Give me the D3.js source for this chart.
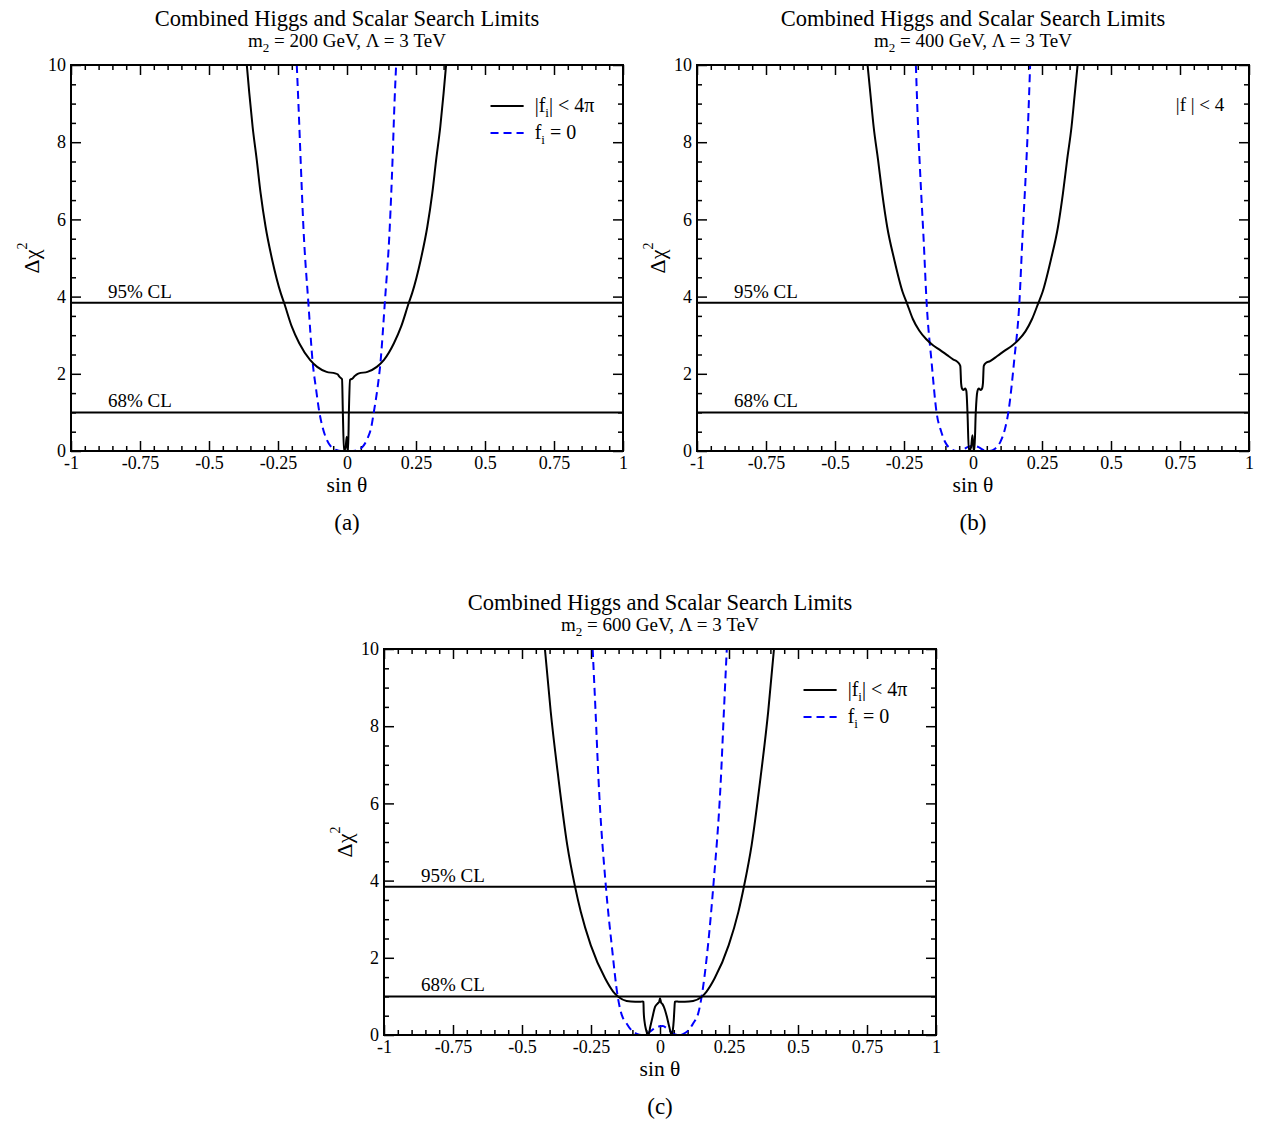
<!DOCTYPE html>
<html>
<head>
<meta charset="utf-8">
<script src="https://cdn.jsdelivr.net/npm/d3@7"></script>
<style>
  html, body { margin: 0; padding: 0; background: #fff; }
  svg { display: block; }
  text { font-family: "Liberation Serif", "Times New Roman", Times, serif; fill: #000; }
</style>
</head>
<body>
<svg id="fig" width="1261" height="1128"></svg>
<script>
// ---- tick labels and reference levels ----
const xTickValues = [-1, -0.75, -0.5, -0.25, 0, 0.25, 0.5, 0.75, 1];
const xTickLabels = ["-1", "-0.75", "-0.5", "-0.25", "0", "0.25", "0.5", "0.75", "1"];
const yTickValues = [0, 2, 4, 6, 8, 10];
const yTickLabels = ["0", "2", "4", "6", "8", "10"];
const clLevels = [3.84, 1.0];
const clLabels = ["95% CL", "68% CL"];

// ---- panel (a): m2 = 200 GeV ----
const limitedA = [
  [-0.363, 10], [-0.354, 9.27], [-0.342, 8.40], [-0.327, 7.54], [-0.313, 6.68],
  [-0.295, 5.81], [-0.271, 4.95], [-0.240, 4.09], [-0.228, 3.84], [-0.200, 3.22],
  [-0.173, 2.79], [-0.134, 2.36], [-0.108, 2.18], [-0.074, 2.05], [-0.043, 2.01],
  [-0.033, 1.98], [-0.029, 1.94], [-0.024, 1.90], [-0.018, 1.86], [-0.015, 1.0],
  [-0.011, 0.0], [-0.005, 0.1], [-0.001, 0.37], [0.002, 0.1], [0.004, 0.0],
  [0.007, 1.06], [0.011, 1.84], [0.020, 1.88], [0.029, 1.95], [0.033, 1.97],
  [0.043, 2.01], [0.074, 2.05], [0.108, 2.18], [0.134, 2.36], [0.170, 2.79],
  [0.196, 3.22], [0.224, 3.84], [0.236, 4.09], [0.267, 4.95], [0.291, 5.81],
  [0.309, 6.68], [0.323, 7.54], [0.338, 8.40], [0.350, 9.27], [0.359, 10]
];
const zeroA = [
  [-0.182, 10], [-0.176, 9.0], [-0.168, 7.54], [-0.158, 5.81], [-0.140, 3.84],
  [-0.124, 2.27], [-0.112, 1.6], [-0.100, 1.0], [-0.088, 0.6], [-0.075, 0.32],
  [-0.060, 0.13], [-0.045, 0.04], [-0.030, 0.01], [-0.015, 0.0], [0.0, 0.0],
  [0.015, 0.0], [0.030, 0.01], [0.045, 0.04], [0.060, 0.14], [0.075, 0.34],
  [0.088, 0.62], [0.097, 1.0], [0.110, 1.6], [0.121, 2.27], [0.137, 3.84],
  [0.155, 5.81], [0.165, 7.54], [0.172, 9.0], [0.178, 10]
];

// ---- panel (b): m2 = 400 GeV ----
const limitedB = [
  [-0.382, 10], [-0.372, 9.27], [-0.360, 8.40], [-0.344, 7.54], [-0.329, 6.68],
  [-0.311, 5.81], [-0.285, 4.95], [-0.255, 4.12], [-0.240, 3.84], [-0.218, 3.42],
  [-0.195, 3.12], [-0.170, 2.90], [-0.145, 2.74], [-0.120, 2.62], [-0.095, 2.49],
  [-0.071, 2.37], [-0.060, 2.33], [-0.050, 2.26], [-0.046, 2.2], [-0.043, 1.75],
  [-0.040, 1.62], [-0.035, 1.58], [-0.028, 1.62], [-0.024, 1.55], [-0.020, 1.0],
  [-0.015, 0.0], [-0.007, 0.1], [-0.002, 0.41], [0.002, 0.1], [0.005, 0.0],
  [0.010, 1.0], [0.016, 1.55], [0.021, 1.62], [0.028, 1.58], [0.033, 1.62],
  [0.036, 1.75], [0.039, 2.2], [0.045, 2.27], [0.062, 2.33], [0.088, 2.46],
  [0.115, 2.6], [0.140, 2.72], [0.165, 2.88], [0.190, 3.1], [0.214, 3.42],
  [0.237, 3.84], [0.252, 4.12], [0.282, 4.95], [0.308, 5.81], [0.326, 6.68],
  [0.341, 7.54], [0.357, 8.40], [0.369, 9.27], [0.379, 10]
];
const zeroB = [
  [-0.207, 10], [-0.199, 8.4], [-0.190, 7.0], [-0.179, 5.5], [-0.168, 3.84],
  [-0.150, 2.3], [-0.132, 1.0], [-0.115, 0.5], [-0.100, 0.22], [-0.080, 0.05],
  [-0.060, 0.0], [-0.040, 0.02], [-0.020, 0.1], [0.0, 0.14], [0.020, 0.1],
  [0.040, 0.02], [0.060, 0.0], [0.080, 0.06], [0.100, 0.25], [0.115, 0.55],
  [0.128, 1.0], [0.150, 2.4], [0.168, 3.84], [0.179, 5.5], [0.190, 7.0],
  [0.199, 8.4], [0.207, 10]
];

// ---- panel (c): m2 = 600 GeV ----
const limitedC = [
  [-0.417, 10], [-0.396, 8.38], [-0.368, 6.65], [-0.336, 4.92], [-0.308, 3.85],
  [-0.287, 3.19], [-0.251, 2.33], [-0.199, 1.47], [-0.169, 1.12], [-0.151, 0.99],
  [-0.121, 0.88], [-0.090, 0.86], [-0.072, 0.86], [-0.063, 0.87], [-0.060, 0.86],
  [-0.059, 0.6], [-0.056, 0.35], [-0.051, 0.15], [-0.046, 0.04], [-0.042, 0.0],
  [-0.035, 0.22], [-0.026, 0.5], [-0.018, 0.73], [-0.008, 0.82], [-0.003, 0.86],
  [0.0, 0.95], [0.004, 0.84], [0.009, 0.8], [0.014, 0.73], [0.024, 0.5],
  [0.034, 0.2], [0.042, 0.0], [0.046, 0.1], [0.050, 0.4], [0.052, 0.65],
  [0.054, 0.86], [0.057, 0.87], [0.070, 0.86], [0.090, 0.86], [0.120, 0.88],
  [0.151, 0.99], [0.168, 1.12], [0.198, 1.47], [0.249, 2.33], [0.284, 3.19],
  [0.304, 3.84], [0.332, 4.92], [0.364, 6.65], [0.392, 8.38], [0.413, 10]
];
const zeroC = [
  [-0.244, 10], [-0.233, 8.3], [-0.223, 6.65], [-0.196, 3.84], [-0.175, 2.33],
  [-0.153, 0.99], [-0.142, 0.6], [-0.121, 0.3], [-0.100, 0.1], [-0.084, 0.03],
  [-0.068, 0.0], [-0.050, 0.03], [-0.030, 0.12], [-0.010, 0.22], [0.010, 0.23],
  [0.030, 0.14], [0.050, 0.03], [0.070, 0.0], [0.085, 0.03], [0.100, 0.1],
  [0.120, 0.3], [0.140, 0.6], [0.151, 1.0], [0.174, 2.33], [0.193, 3.84],
  [0.221, 6.7], [0.231, 8.3], [0.242, 10]
];

const titleText = "Combined Higgs and Scalar Search Limits";
const massLabels = ["200", "400", "600"];
const panelTags = ["(a)", "(b)", "(c)"];

// ---- layout ----
const panels = [
  { left: 71,  top: 65,  limited: limitedA, zero: zeroA, mass: massLabels[0], tag: panelTags[0], legend: "full" },
  { left: 697, top: 65,  limited: limitedB, zero: zeroB, mass: massLabels[1], tag: panelTags[1], legend: "text" },
  { left: 384, top: 649, limited: limitedC, zero: zeroC, mass: massLabels[2], tag: panelTags[2], legend: "full" }
];
const W = 552, H = 386;
const FONT = '"Liberation Serif", "Times New Roman", serif';
const svg = d3.select("#fig");

panels.forEach((p, i) => {
  const g = svg.append("g").attr("transform", `translate(${p.left},${p.top})`);
  const x = d3.scaleLinear().domain([-1, 1]).range([0, W]);
  const y = d3.scaleLinear().domain([0, 10]).range([H, 0]);

  const clipId = "clip" + i;
  g.append("clipPath").attr("id", clipId)
    .append("rect").attr("x", 0).attr("y", 0).attr("width", W).attr("height", H);

  // minor + major ticks on all four sides, pointing inward
  const xMinor = d3.range(-1, 1.0001, 0.05).map(v => +v.toFixed(2)).filter(v => !xTickValues.includes(v));
  const yMinor = d3.range(0, 10.0001, 0.5).filter(v => !yTickValues.includes(v));

  const fmtX = d => xTickLabels[xTickValues.indexOf(d)];
  const fmtY = d => yTickLabels[yTickValues.indexOf(d)];

  function styleAxis(sel) {
    sel.select(".domain").remove();
    sel.selectAll("line").attr("stroke", "#000").attr("stroke-width", 1.5);
    sel.selectAll("text").style("font-family", FONT).style("font-size", "18px").attr("fill", "#000");
  }

  g.append("g").attr("transform", `translate(0,${H})`)
    .call(d3.axisBottom(x).tickValues(xTickValues).tickFormat(fmtX).tickSize(-10).tickPadding(5))
    .call(styleAxis);
  g.append("g").attr("transform", `translate(0,${H})`)
    .call(d3.axisBottom(x).tickValues(xMinor).tickFormat("").tickSize(-5))
    .call(styleAxis);
  g.append("g")
    .call(d3.axisTop(x).tickValues(xTickValues).tickFormat("").tickSize(-10))
    .call(styleAxis);
  g.append("g")
    .call(d3.axisTop(x).tickValues(xMinor).tickFormat("").tickSize(-5))
    .call(styleAxis);
  g.append("g")
    .call(d3.axisLeft(y).tickValues(yTickValues).tickFormat(fmtY).tickSize(-10).tickPadding(5))
    .call(styleAxis);
  g.append("g")
    .call(d3.axisLeft(y).tickValues(yMinor).tickFormat("").tickSize(-5))
    .call(styleAxis);
  g.append("g").attr("transform", `translate(${W},0)`)
    .call(d3.axisRight(y).tickValues(yTickValues).tickFormat("").tickSize(-10))
    .call(styleAxis);
  g.append("g").attr("transform", `translate(${W},0)`)
    .call(d3.axisRight(y).tickValues(yMinor).tickFormat("").tickSize(-5))
    .call(styleAxis);

  // confidence-level reference lines
  clLevels.forEach((lv, k) => {
    g.append("line")
      .attr("x1", 0).attr("x2", W).attr("y1", y(lv)).attr("y2", y(lv))
      .attr("stroke", "#000").attr("stroke-width", 2);
    g.append("text")
      .attr("x", x(-0.866)).attr("y", y(lv) - 5)
      .style("font-size", "19px")
      .text(clLabels[k]);
  });

  const line = d3.line().x(d => x(d[0])).y(d => y(d[1])).curve(d3.curveMonotoneX);
  const curves = g.append("g").attr("clip-path", `url(#${clipId})`);
  curves.append("path").datum(p.zero)
    .attr("d", line).attr("fill", "none")
    .attr("stroke", "#0000ff").attr("stroke-width", 2).attr("stroke-dasharray", "8,5");
  curves.append("path").datum(p.limited)
    .attr("d", line).attr("fill", "none")
    .attr("stroke", "#000").attr("stroke-width", 2).attr("stroke-linejoin", "round");

  // frame
  g.append("rect").attr("x", 0).attr("y", 0).attr("width", W).attr("height", H)
    .attr("fill", "none").attr("stroke", "#000").attr("stroke-width", 2);

  // titles
  g.append("text").attr("x", W / 2).attr("y", -39).attr("text-anchor", "middle")
    .style("font-size", "22.5px").text(titleText);
  const sub = g.append("text").attr("x", W / 2).attr("y", -18).attr("text-anchor", "middle")
    .style("font-size", "19px");
  sub.append("tspan").text("m");
  sub.append("tspan").attr("dy", 5).style("font-size", "13px").text("2");
  sub.append("tspan").attr("dy", -5).text(` = ${p.mass} GeV, \u039B = 3 TeV`);

  // axis labels
  g.append("text").attr("x", W / 2).attr("y", H + 41).attr("text-anchor", "middle")
    .style("font-size", "21.5px").text("sin \u03B8");
  const yl = g.append("text")
    .attr("transform", `translate(-32,${H / 2}) rotate(-90)`)
    .attr("text-anchor", "middle")
    .style("font-size", "22px");
  yl.append("tspan").text("\u0394\u03C7");
  yl.append("tspan").attr("dy", -12).style("font-size", "14px").text("2");

  g.append("text").attr("x", W / 2).attr("y", H + 79).attr("text-anchor", "middle")
    .style("font-size", "23px").text(p.tag);

  // legend
  if (p.legend === "full") {
    const lx = x(0.52), lx2 = x(0.64), tx = x(0.68);
    g.append("line").attr("x1", lx).attr("x2", lx2).attr("y1", 41).attr("y2", 41)
      .attr("stroke", "#000").attr("stroke-width", 2);
    const t1 = g.append("text").attr("x", tx).attr("y", 47).style("font-size", "20px");
    t1.append("tspan").text("|f");
    t1.append("tspan").attr("dy", 5).style("font-size", "13px").text("i");
    t1.append("tspan").attr("dy", -5).text("| < 4\u03C0");
    g.append("line").attr("x1", lx).attr("x2", lx2).attr("y1", 68).attr("y2", 68)
      .attr("stroke", "#0000ff").attr("stroke-width", 2).attr("stroke-dasharray", "8,5");
    const t2 = g.append("text").attr("x", tx).attr("y", 74).style("font-size", "20px");
    t2.append("tspan").text("f");
    t2.append("tspan").attr("dy", 5).style("font-size", "13px").text("i");
    t2.append("tspan").attr("dy", -5).text(" = 0");
  } else {
    g.append("text").attr("x", x(0.735)).attr("y", 46).style("font-size", "19px")
      .text("|f | < 4");
  }
});
</script>
</body>
</html>
